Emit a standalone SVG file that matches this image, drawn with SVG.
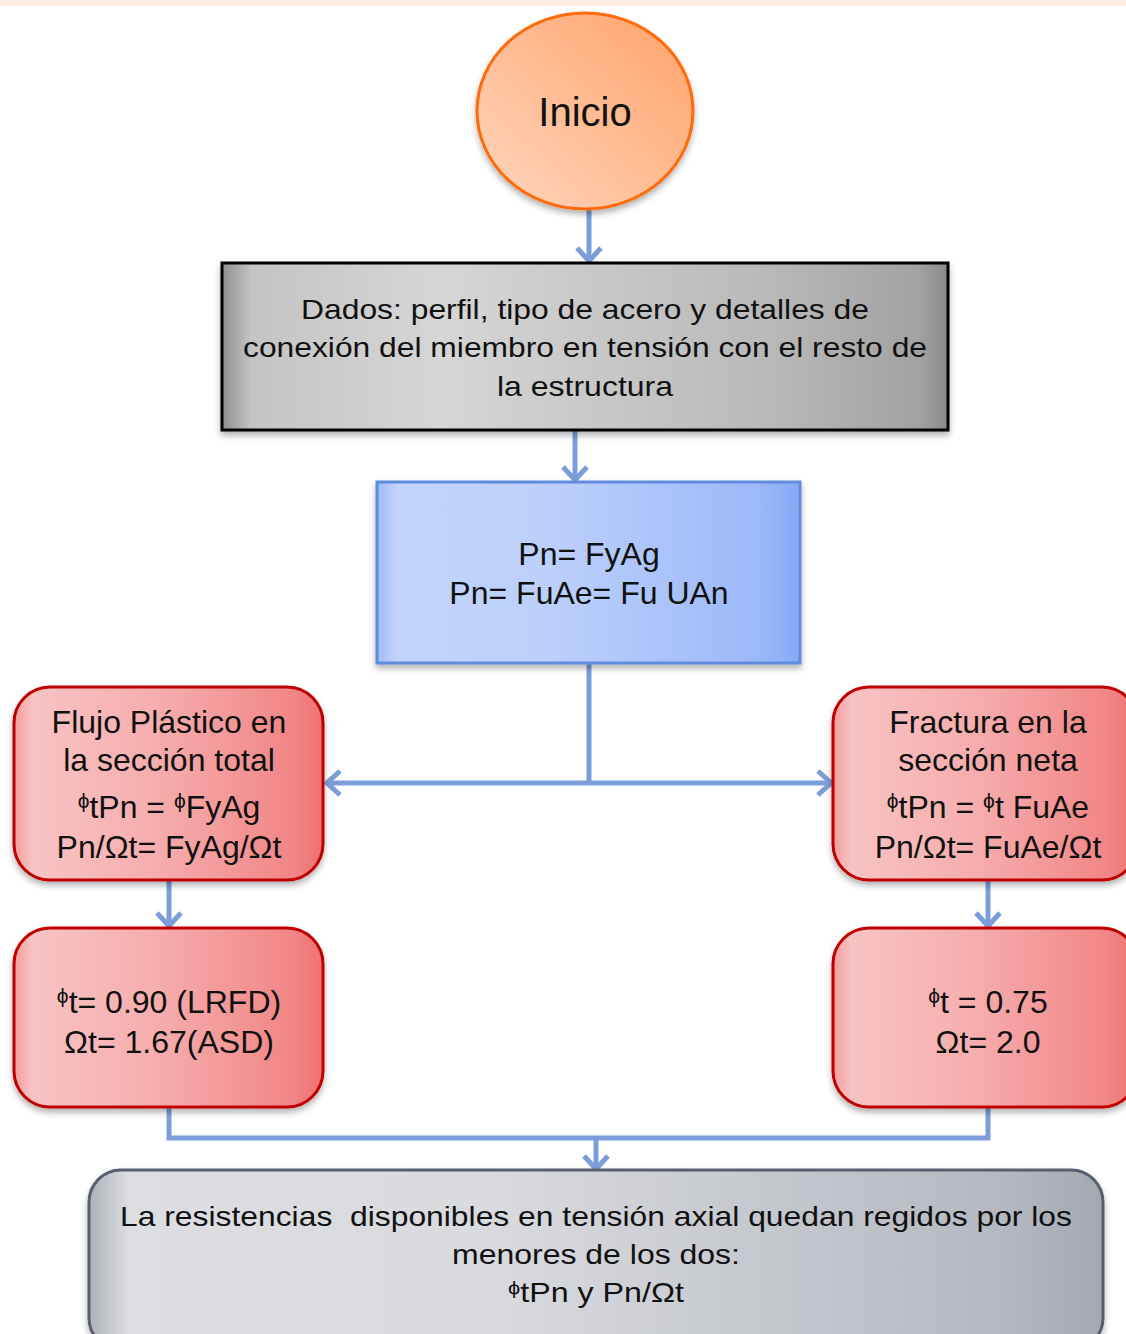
<svg xmlns="http://www.w3.org/2000/svg" width="1126" height="1334" viewBox="0 0 1126 1334">
<defs>
<style>
text{font-family:"Liberation Sans",Arial,sans-serif;fill:#111;text-anchor:middle}
.t30{font-size:32px}
.t28{font-size:28px}
.phi{font-size:21px}
.conn{stroke:#7b9edb;stroke-width:5;fill:none}
</style>
<linearGradient id="gOrange" x1="0" y1="1" x2="1" y2="0">
<stop offset="0" stop-color="#ffd6bf"/>
<stop offset="1" stop-color="#ffa268"/>
</linearGradient>
<linearGradient id="gGray" x1="0" y1="0" x2="1" y2="0">
<stop offset="0" stop-color="#8e8e8e"/>
<stop offset="0.04" stop-color="#c4c4c4"/>
<stop offset="0.3" stop-color="#d6d6d6"/>
<stop offset="0.75" stop-color="#b9b9b9"/>
<stop offset="0.96" stop-color="#a2a2a2"/>
<stop offset="1" stop-color="#8a8a8a"/>
</linearGradient>
<linearGradient id="gBlue" x1="0" y1="0" x2="1" y2="0">
<stop offset="0" stop-color="#9fbdf7"/>
<stop offset="0.05" stop-color="#c3d4fb"/>
<stop offset="0.4" stop-color="#bcd0fb"/>
<stop offset="0.9" stop-color="#9cb9f8"/>
<stop offset="1" stop-color="#85a9f6"/>
</linearGradient>
<linearGradient id="gRed" x1="0" y1="0" x2="1" y2="0">
<stop offset="0" stop-color="#f39b9b"/>
<stop offset="0.06" stop-color="#f8c3c3"/>
<stop offset="0.45" stop-color="#f6aeae"/>
<stop offset="0.9" stop-color="#f28686"/>
<stop offset="1" stop-color="#ef7070"/>
</linearGradient>
<linearGradient id="gSlate" x1="0" y1="0" x2="1" y2="0">
<stop offset="0" stop-color="#aeb1b8"/>
<stop offset="0.04" stop-color="#dcdee2"/>
<stop offset="0.4" stop-color="#d8dade"/>
<stop offset="0.9" stop-color="#b5b8c0"/>
<stop offset="1" stop-color="#a4a8b1"/>
</linearGradient>
<filter id="sh" x="-10%" y="-10%" width="120%" height="130%">
<feDropShadow dx="0" dy="4" stdDeviation="3" flood-color="#000" flood-opacity="0.3"/>
</filter>
<marker id="arr" viewBox="0 0 24 28" markerWidth="24" markerHeight="28" refX="21" refY="14" orient="auto" markerUnits="userSpaceOnUse">
<path d="M8,2 L21,14 L8,26" fill="none" stroke="#7b9edb" stroke-width="5" stroke-linejoin="miter"/>
</marker>
</defs>
<rect x="0" y="0" width="1126" height="6" fill="#fdece2"/>

<g id="connectors">
<line class="conn" x1="589" y1="210" x2="589" y2="261" marker-end="url(#arr)"/>
<line class="conn" x1="575" y1="431" x2="575" y2="480" marker-end="url(#arr)"/>
<line class="conn" x1="589" y1="664" x2="589" y2="785"/>
<line class="conn" x1="589" y1="783" x2="327" y2="783" marker-end="url(#arr)"/>
<line class="conn" x1="589" y1="783" x2="831" y2="783" marker-end="url(#arr)"/>
<line class="conn" x1="169" y1="881" x2="169" y2="926" marker-end="url(#arr)"/>
<line class="conn" x1="988" y1="881" x2="988" y2="926" marker-end="url(#arr)"/>
<polyline class="conn" points="169,1107 169,1138 988,1138 988,1107"/>
<line class="conn" x1="596" y1="1138" x2="596" y2="1169" marker-end="url(#arr)"/>
</g>

<g id="inicio">
<ellipse cx="585" cy="111" rx="108" ry="98" fill="url(#gOrange)" stroke="#ff6a0a" stroke-width="3" filter="url(#sh)"/>
<text x="585" y="126" style="font-size:40px">Inicio</text>
</g>

<g id="dados">
<rect x="222" y="263" width="726" height="167" fill="url(#gGray)" stroke="#000" stroke-width="3" filter="url(#sh)"/>
<text class="t28" x="585" y="319" textLength="568" lengthAdjust="spacingAndGlyphs">Dados: perfil, tipo de acero y detalles de</text>
<text class="t28" x="585" y="357" textLength="684" lengthAdjust="spacingAndGlyphs">conexión del miembro en tensión con el resto de</text>
<text class="t28" x="585" y="396" textLength="176" lengthAdjust="spacingAndGlyphs">la estructura</text>
</g>

<g id="pn">
<rect x="377" y="482" width="423" height="181" fill="url(#gBlue)" stroke="#5f8cdc" stroke-width="3" filter="url(#sh)"/>
<text class="t30" x="589" y="565">Pn= FyAg</text>
<text class="t30" x="589" y="604">Pn= FuAe= Fu UAn</text>
</g>

<g id="flujo">
<rect x="14" y="687" width="309" height="193" rx="36" fill="url(#gRed)" stroke="#c00000" stroke-width="3" filter="url(#sh)"/>
<text class="t30" x="169" y="733">Flujo Plástico en</text>
<text class="t30" x="169" y="771">la sección total</text>
<text class="t30" x="169" y="818"><tspan class="phi" dy="-10">ϕ</tspan><tspan dy="10">tPn = </tspan><tspan class="phi" dy="-10">ϕ</tspan><tspan dy="10">FyAg</tspan></text>
<text class="t30" x="169" y="858">Pn/Ωt= FyAg/Ωt</text>
</g>

<g id="fractura">
<rect x="833" y="687" width="305" height="193" rx="36" fill="url(#gRed)" stroke="#c00000" stroke-width="3" filter="url(#sh)"/>
<text class="t30" x="988" y="733">Fractura en la</text>
<text class="t30" x="988" y="771">sección neta</text>
<text class="t30" x="988" y="818"><tspan class="phi" dy="-10">ϕ</tspan><tspan dy="10">tPn = </tspan><tspan class="phi" dy="-10">ϕ</tspan><tspan dy="10">t FuAe</tspan></text>
<text class="t30" x="988" y="858">Pn/Ωt= FuAe/Ωt</text>
</g>

<g id="factores-lrfd">
<rect x="14" y="928" width="309" height="179" rx="36" fill="url(#gRed)" stroke="#c00000" stroke-width="3" filter="url(#sh)"/>
<text class="t30" x="169" y="1013"><tspan class="phi" dy="-10">ϕ</tspan><tspan dy="10">t= 0.90 (LRFD)</tspan></text>
<text class="t30" x="169" y="1053">Ωt= 1.67(ASD)</text>
</g>

<g id="factores-fractura">
<rect x="833" y="928" width="305" height="179" rx="36" fill="url(#gRed)" stroke="#c00000" stroke-width="3" filter="url(#sh)"/>
<text class="t30" x="988" y="1013"><tspan class="phi" dy="-10">ϕ</tspan><tspan dy="10">t = 0.75</tspan></text>
<text class="t30" x="988" y="1053">Ωt= 2.0</text>
</g>

<g id="resultado">
<rect x="89" y="1170" width="1014" height="180" rx="32" fill="url(#gSlate)" stroke="#596070" stroke-width="3" filter="url(#sh)"/>
<text class="t28" x="596" y="1226" textLength="952" lengthAdjust="spacingAndGlyphs" xml:space="preserve">La resistencias  disponibles en tensión axial quedan regidos por los</text>
<text class="t28" x="596" y="1264" textLength="288" lengthAdjust="spacingAndGlyphs">menores de los dos:</text>
<text class="t28" x="596" y="1302" textLength="176" lengthAdjust="spacingAndGlyphs"><tspan style="font-size:19px" dy="-8">ϕ</tspan><tspan dy="8">tPn y Pn/Ωt</tspan></text>
</g>
</svg>
